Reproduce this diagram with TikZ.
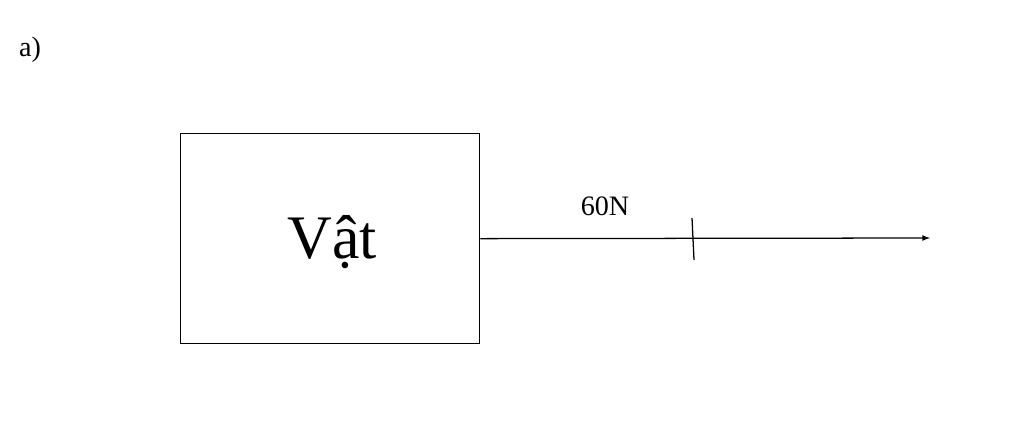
\documentclass[tikz,border=0pt]{standalone}
\usepackage{fontspec}
\setmainfont{Liberation Serif}
\usetikzlibrary{arrows,positioning}

\begin{document}
\begin{tikzpicture}[x=0.025cm,y=-0.025cm,line width=0.9pt]

\useasboundingbox (0,0) rectangle (1024,430);

\node at (30,50) (lbl) {\fontsize{20}{24}\selectfont a)};

\node[draw, minimum width=299*0.025cm, minimum height=210*0.025cm, anchor=north west, inner sep=0pt] at (180,133) (vat) {};
\node at (332,242) (vattext) {\fontsize{44}{50}\selectfont Vật};

\coordinate (tip) at (930,238);
\draw [-latex] (vat.east) -- (tip);
\draw (692,218) coordinate (t1) -- (694,260) coordinate (t2);
\node at (605,206) (force) {\fontsize{20}{24}\selectfont 60N};

\end{tikzpicture}
\end{document}
